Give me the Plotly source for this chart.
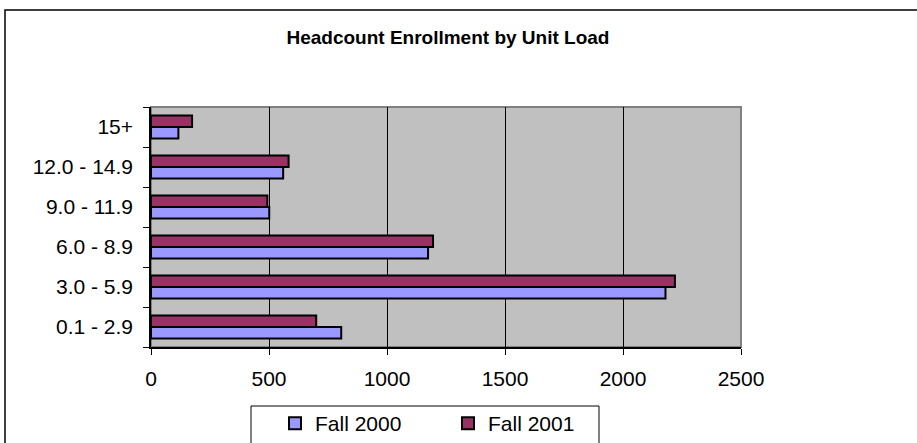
import plotly.graph_objects as go

# data
unit_loads = ["0.1 - 2.9", "3.0 - 5.9", "6.0 - 8.9", "9.0 - 11.9", "12.0 - 14.9", "15+"]
fall_2000 = [806, 2180, 1174, 501, 560, 116]
fall_2001 = [700, 2220, 1195, 493, 583, 174]
x_ticks = [0, 500, 1000, 1500, 2000, 2500]

_FONT = "Arial, Liberation Sans, sans-serif"
_L, _R, _T, _B = 151, 176, 107, 96
_W, _H = 917, 443
pw, ph = _W - _L - _R, _H - _T - _B


def px2paper(x, y):
    """pixel position in the page -> paper coords of the plot area"""
    return (x - _L) / pw, (_H - _B - y) / ph


fig = go.Figure()
fig.add_trace(go.Bar(
    y=unit_loads, x=fall_2000, name="Fall 2000", orientation="h",
    marker=dict(color="#9999FF", line=dict(color="black", width=2)),
))
fig.add_trace(go.Bar(
    y=unit_loads, x=fall_2001, name="Fall 2001", orientation="h",
    marker=dict(color="#993366", line=dict(color="black", width=2)),
))

fx0, fy0 = px2paper(5, 10)
fx1, fy1 = px2paper(925, 455)
lx0, ly0 = px2paper(251, 406)
lx1, ly1 = px2paper(599, 455)

fig.update_layout(
    width=_W, height=_H,
    margin=dict(l=_L, r=_R, t=_T, b=_B, pad=0, autoexpand=False),
    paper_bgcolor="white", plot_bgcolor="#C0C0C0",
    font=dict(family=_FONT, size=21, color="black"),
    barmode="group", bargap=0.42, bargroupgap=0,
    title=dict(text="<b>Headcount Enrollment by Unit Load</b>",
               x=0.4885, xanchor="center", y=1 - 37 / _H, yanchor="middle",
               font=dict(size=19, family=_FONT)),
    showlegend=True,
    legend=dict(orientation="h", traceorder="normal",
                x=(275 - _L) / pw, xanchor="left",
                y=(_H - _B - 403) / ph, yanchor="top",
                bgcolor="rgba(0,0,0,0)", borderwidth=0,
                entrywidth=128, entrywidthmode="pixels",
                font=dict(size=21, family=_FONT)),
    shapes=[
        dict(type="rect", xref="paper", yref="paper", x0=0, x1=1, y0=0, y1=1,
             line=dict(color="#808080", width=2), layer="below"),
        dict(type="rect", xref="paper", yref="paper", x0=fx0, x1=fx1, y0=fy1, y1=fy0,
             line=dict(color="black", width=1.5)),
        dict(type="rect", xref="paper", yref="paper", x0=lx0, x1=lx1, y0=ly1, y1=ly0,
             line=dict(color="black", width=1)),
    ],
)
fig.update_xaxes(
    range=[0, 2500], tickvals=x_ticks, ticktext=[str(v) for v in x_ticks],
    showgrid=True, gridcolor="black", gridwidth=1, zeroline=False,
    showline=True, linecolor="black", linewidth=1.5,
    ticks="outside", ticklen=6, tickcolor="black", ticklabelstandoff=6,
)
fig.update_yaxes(
    categoryorder="array", categoryarray=unit_loads,
    showgrid=False, zeroline=False,
    showline=True, linecolor="black", linewidth=1.5,
    ticks="outside", tickson="boundaries", ticklen=6, tickcolor="black",
    ticklabelstandoff=12,
)

# drop the default 8px body margin so the figure sits at the page corner
fig.write_html("out.html", config={"displayModeBar": False},
               post_script="document.body.style.margin='0';")
